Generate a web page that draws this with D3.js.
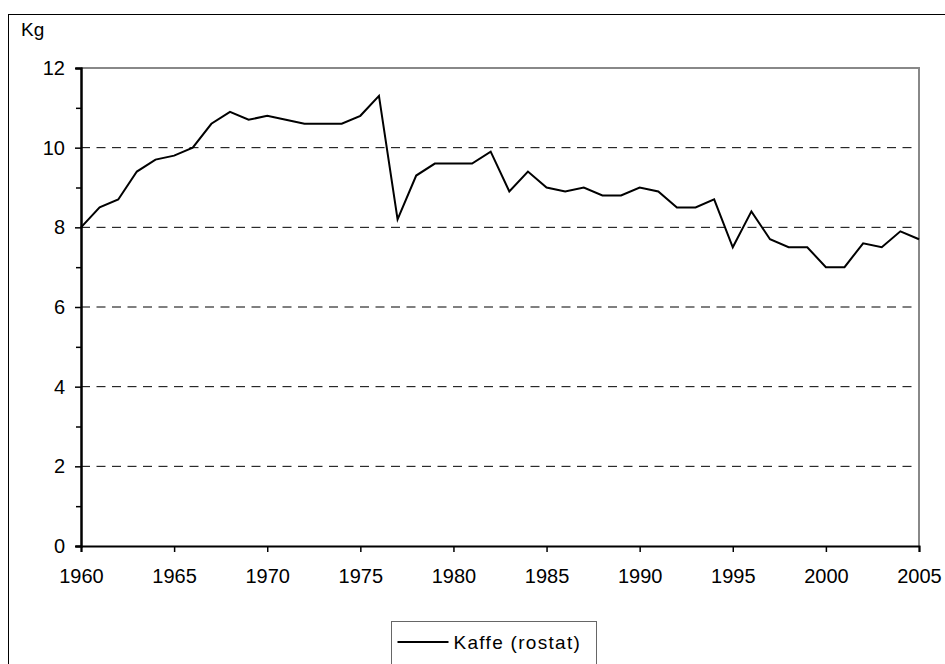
<!DOCTYPE html>
<html>
<head>
<meta charset="utf-8">
<script src="https://cdn.jsdelivr.net/npm/d3@7"></script>
<style>
    body { margin: 0; background: #fff; }
    text { font-family: "Liberation Sans", Arial, sans-serif; fill: #000; }
</style>
</head>
<body>
<script>
const years = d3.range(1960, 2006)
const kaffe = [
    8.0, 8.5, 8.7, 9.4, 9.7, 9.8, 10.0, 10.6, 10.9, 10.7,
    10.8, 10.7, 10.6, 10.6, 10.6, 10.8, 11.3, 8.2, 9.3, 9.6,
    9.6, 9.6, 9.9, 8.9, 9.4, 9.0, 8.9, 9.0, 8.8, 8.8,
    9.0, 8.9, 8.5, 8.5, 8.7, 7.5, 8.4, 7.7, 7.5, 7.5,
    7.0, 7.0, 7.6, 7.5, 7.9, 7.7
]
const xTicks = [1960, 1965, 1970, 1975, 1980, 1985, 1990, 1995, 2000, 2005]
const yTicks = [0, 2, 4, 6, 8, 10, 12]
const yMinorTicks = [1, 3, 5, 7, 9, 11]
const seriesName = "Kaffe (rostat)"
const yLabel = "Kg"

const svgWidth = 945
const svgHeight = 664

const margin = { top: 68, right: 26, bottom: 118, left: 81 }
const chartWidth = svgWidth - margin.left - margin.right
const chartHeight = svgHeight - margin.top - margin.bottom

const svg = d3.select("body").append("svg")
    .attr("width", svgWidth)
    .attr("height", svgHeight)

// outer chart frame (runs off right and bottom edge)
svg.append("rect")
    .attr("x", 8.5)
    .attr("y", 14.5)
    .attr("width", 1000)
    .attr("height", 1000)
    .attr("fill", "none")
    .attr("stroke", "#000")

const chartG = svg.append("g")
    .attr("transform", `translate(${margin.left}, ${margin.top})`)

const x = d3.scaleLinear()
    .domain([1960, 2005])
    .range([0, chartWidth])

const y = d3.scaleLinear()
    .domain([0, 12])
    .range([chartHeight, 0])

// gridlines
chartG.append("g")
    .selectAll("line")
    .data(yTicks.filter(d => d > 0 && d < 12))
    .join("line")
    .attr("x1", 0)
    .attr("x2", chartWidth)
    .attr("y1", d => y(d))
    .attr("y2", d => y(d))
    .attr("stroke", "#000")
    .attr("stroke-dasharray", "9,6.5")

// plot border, top and right in grey
chartG.append("path")
    .attr("d", `M0,${y(12)}H${x(2005)}V${y(0)}`)
    .attr("fill", "none")
    .attr("stroke", "#888")
    .attr("stroke-width", 2)

const yAxis = d3.axisLeft(y)
    .tickValues(yTicks)
    .tickSize(6)
    .tickPadding(10)
    .tickFormat(d3.format("d"))

const yMinor = d3.axisLeft(y)
    .tickValues(yMinorTicks)
    .tickSize(5)
    .tickFormat("")

const xAxis = d3.axisBottom(x)
    .tickValues(xTicks)
    .tickSize(6)
    .tickPadding(17)
    .tickFormat(d3.format("d"))

const styleAxis = g => {
    g.select(".domain").attr("stroke", "#000").attr("stroke-width", 2)
    g.selectAll(".tick line").attr("stroke", "#000").attr("stroke-width", 1.5)
    g.selectAll("text").attr("font-size", 20).attr("font-family", null).attr("fill", "#000")
}

chartG.append("g").call(yMinor).call(styleAxis)
chartG.append("g").call(yAxis).call(styleAxis)

chartG.append("g")
    .attr("transform", `translate(0, ${chartHeight})`)
    .call(xAxis)
    .call(styleAxis)

const line = d3.line()
    .x((d, i) => x(years[i]))
    .y(d => y(d))

chartG.append("path")
    .attr("d", line(kaffe))
    .attr("fill", "none")
    .attr("stroke", "#000")
    .attr("stroke-width", 2)
    .attr("stroke-linejoin", "miter")

svg.append("text")
    .attr("x", 21)
    .attr("y", 36)
    .attr("font-size", 19)
    .text(yLabel)

// legend
const legendG = svg.append("g")
    .attr("transform", "translate(391.5, 621.5)")

legendG.append("rect")
    .attr("width", 205)
    .attr("height", 100)
    .attr("fill", "#fff")
    .attr("stroke", "#666")

legendG.append("line")
    .attr("x1", 6)
    .attr("x2", 57)
    .attr("y1", 20.5)
    .attr("y2", 20.5)
    .attr("stroke", "#000")
    .attr("stroke-width", 2)

legendG.append("text")
    .attr("x", 62)
    .attr("y", 27)
    .attr("font-size", 19)
    .attr("letter-spacing", 1.3)
    .text(seriesName)
</script>
</body>
</html>
